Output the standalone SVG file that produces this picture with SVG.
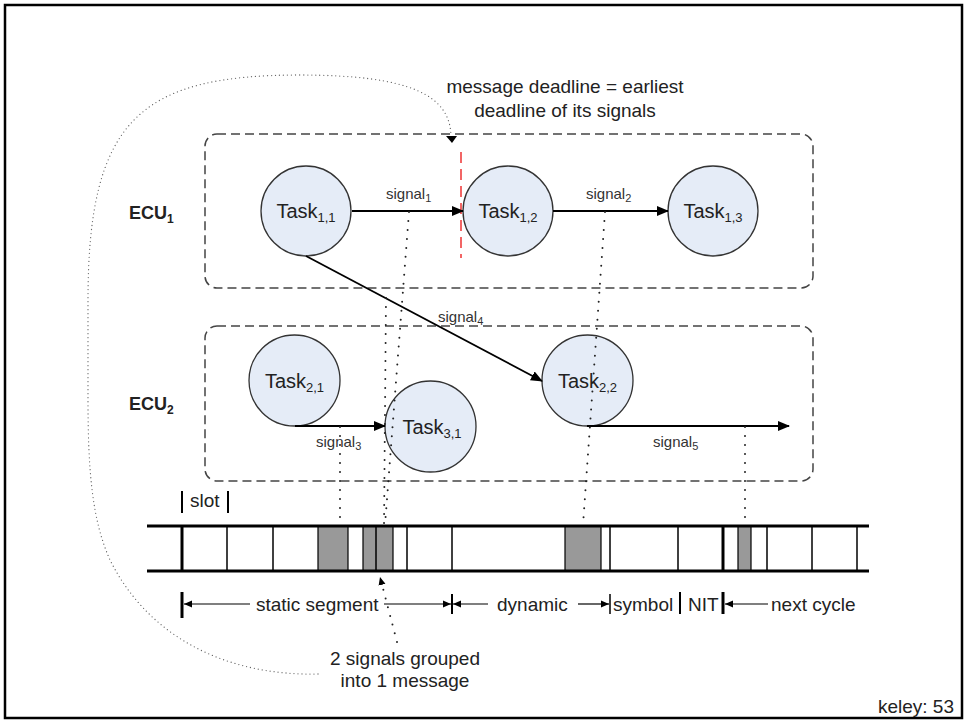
<svg xmlns="http://www.w3.org/2000/svg" width="967" height="723" viewBox="0 0 967 723">
<defs>
<marker id="ah" markerUnits="userSpaceOnUse" markerWidth="12" markerHeight="10" refX="11" refY="5" orient="auto"><path d="M0,0 L12,5 L0,10 z" fill="#000"/></marker>
<marker id="sh" markerUnits="userSpaceOnUse" markerWidth="8" markerHeight="8" refX="8" refY="4" orient="auto"><path d="M0,0.5 L8,4 L0,7.5 z" fill="#000"/></marker>
</defs>
<style>
text{font-family:"Liberation Sans",Arial,sans-serif;fill:#222}
.task circle{fill:#e5ecf7;stroke:#333;stroke-width:1.3}
.tl{font-size:20px;text-anchor:middle}
.sub{font-size:13px}
.sig{font-size:15px;fill:#333}
.ssub{font-size:11px}
.ecu{fill:none;stroke:#444;stroke-width:1.5;stroke-dasharray:9 5}
.ecul{font-size:18px;font-weight:bold}
.arr{stroke:#000;stroke-width:1.8;fill:none;marker-end:url(#ah)}
.dot{fill:none;stroke:#222;stroke-width:2;stroke-dasharray:0 9;stroke-linecap:round}
.fine{fill:none;stroke:#666;stroke-width:1.3;stroke-dasharray:0 4;stroke-linecap:round}
.lbl{font-size:19px}
.bus{stroke:#000;stroke-width:3}
.sl{stroke:#000;stroke-width:1.5}
.msg{fill:#999;stroke:#000;stroke-width:1.2}
.dim{stroke:#000;stroke-width:1.2;marker-end:url(#sh)}
</style>
<rect x="5" y="5" width="957" height="713" fill="#fff" stroke="#000" stroke-width="2.5"/>

<g id="ecu1">
<rect class="ecu" x="205" y="134" width="608" height="154" rx="12"/>
<text class="ecul" x="129" y="219">ECU<tspan font-size="12" dy="4">1</tspan></text>
</g>
<g id="ecu2">
<rect class="ecu" x="205" y="326" width="608" height="155" rx="12"/>
<text class="ecul" x="129" y="410">ECU<tspan font-size="12" dy="4">2</tspan></text>
</g>

<g id="deadline-marker">
<line x1="461" y1="152" x2="461" y2="258" stroke="#e33" stroke-width="1.5" stroke-dasharray="11 6"/>
</g>

<g id="task11" class="task"><circle cx="306" cy="211" r="45"/><text class="tl" x="306" y="218">Task<tspan class="sub" dy="4">1,1</tspan></text></g>
<g id="task12" class="task"><circle cx="508" cy="211" r="45"/><text class="tl" x="508" y="218">Task<tspan class="sub" dy="4">1,2</tspan></text></g>
<g id="task13" class="task"><circle cx="713" cy="211" r="45"/><text class="tl" x="713" y="218">Task<tspan class="sub" dy="4">1,3</tspan></text></g>
<g id="task21" class="task"><circle cx="294.5" cy="380.5" r="45.5"/><text class="tl" x="294.5" y="388">Task<tspan class="sub" dy="4">2,1</tspan></text></g>
<g id="task31" class="task"><circle cx="430.5" cy="426.5" r="45.5"/><text class="tl" x="432" y="434">Task<tspan class="sub" dy="4">3,1</tspan></text></g>
<g id="task22" class="task"><circle cx="587.5" cy="380.5" r="45.5"/><text class="tl" x="587.5" y="388">Task<tspan class="sub" dy="4">2,2</tspan></text></g>

<g id="connectors">
<line class="arr" x1="352" y1="211" x2="463" y2="211"/>
<text class="sig" x="386" y="199">signal<tspan class="ssub" dy="3">1</tspan></text>
<line class="arr" x1="553" y1="211" x2="668" y2="211"/>
<text class="sig" x="586" y="199">signal<tspan class="ssub" dy="3">2</tspan></text>
<line class="arr" x1="306" y1="256" x2="542" y2="381"/>
<text class="sig" x="438" y="322">signal<tspan class="ssub" dy="3">4</tspan></text>
<line class="arr" x1="295" y1="426" x2="385" y2="426"/>
<text class="sig" x="316" y="447">signal<tspan class="ssub" dy="3">3</tspan></text>
<line class="arr" x1="587" y1="426" x2="789" y2="426"/>
<text class="sig" x="653" y="447">signal<tspan class="ssub" dy="3">5</tspan></text>

<line class="dot" x1="409" y1="212" x2="385" y2="525"/>
<line class="dot" x1="386" y1="298" x2="384" y2="525"/>
<line class="dot" x1="340" y1="427" x2="340" y2="525"/>
<line class="dot" x1="605" y1="212" x2="583" y2="525"/>
<line class="dot" x1="745" y1="427" x2="745" y2="525"/>

<path class="fine" d="M318,674 C230,676 150,640 110,560 C92,520 88,470 88,400 L88,300 C88,120 140,75 300,75 C410,75 450,95 451,136"/>
<polygon points="446,136 457,136 452,143" fill="#000"/>
<line x1="397" y1="642" x2="380" y2="577" stroke="#222" stroke-width="2" stroke-dasharray="0 9" stroke-linecap="round" marker-end="url(#sh)"/>
</g>

<g id="bus">
<rect class="msg" x="318" y="526" width="30" height="45"/>
<rect class="msg" x="363" y="526" width="30" height="45"/>
<rect class="msg" x="565" y="526" width="36" height="45"/>
<rect class="msg" x="738" y="526" width="13" height="45"/>
<line class="bus" x1="182" y1="526" x2="182" y2="571"/>
<line class="sl" x1="227" y1="526" x2="227" y2="571" stroke="#444"/>
<line class="sl" x1="273" y1="526" x2="273" y2="571"/>
<line class="sl" x1="376" y1="526" x2="376" y2="571"/>
<line class="sl" x1="407" y1="526" x2="407" y2="571" stroke="#666"/>
<line class="sl" x1="452" y1="526" x2="452" y2="571"/>
<line class="sl" x1="610" y1="526" x2="610" y2="571" stroke-width="2"/>
<line class="sl" x1="678" y1="526" x2="678" y2="571"/>
<line class="bus" x1="723" y1="526" x2="723" y2="571"/>
<line class="sl" x1="767" y1="526" x2="767" y2="571" stroke="#666"/>
<line class="sl" x1="812" y1="526" x2="812" y2="571"/>
<line class="sl" x1="857" y1="526" x2="857" y2="571"/>
<line class="bus" x1="147" y1="526" x2="869" y2="526"/>
<line class="bus" x1="147" y1="571" x2="869" y2="571"/>
</g>

<g id="slot-label">
<line x1="182" y1="491" x2="182" y2="513" stroke="#000" stroke-width="2"/>
<line x1="228" y1="491" x2="228" y2="513" stroke="#000" stroke-width="2"/>
<text class="lbl" x="190" y="507">slot</text>
</g>

<g id="segments">
<line x1="182" y1="592" x2="182" y2="618" stroke="#000" stroke-width="3"/>
<line class="dim" x1="250" y1="604" x2="184" y2="604"/>
<text class="lbl" x="256" y="611">static segment</text>
<line class="dim" x1="384" y1="604" x2="451" y2="604"/>
<line x1="452" y1="594" x2="452" y2="614" stroke="#000" stroke-width="2"/>
<line class="dim" x1="488" y1="604" x2="453" y2="604"/>
<text class="lbl" x="497" y="611">dynamic</text>
<line class="dim" x1="578" y1="604" x2="609" y2="604"/>
<line x1="610" y1="594" x2="610" y2="614" stroke="#000" stroke-width="1.5"/>
<text class="lbl" x="613" y="611">symbol</text>
<line x1="680" y1="592" x2="680" y2="614" stroke="#000" stroke-width="2"/>
<text class="lbl" x="688" y="611">NIT</text>
<line x1="723" y1="592" x2="723" y2="614" stroke="#000" stroke-width="3"/>
<line class="dim" x1="768" y1="604" x2="725" y2="604"/>
<text class="lbl" x="771" y="611">next cycle</text>
</g>

<g id="notes">
<text class="lbl" x="565" y="93" text-anchor="middle">message deadline = earliest</text>
<text class="lbl" x="565" y="117" text-anchor="middle">deadline of its signals</text>
<text class="lbl" x="405" y="665" text-anchor="middle">2 signals grouped</text>
<text class="lbl" x="405" y="687" text-anchor="middle">into 1 message</text>
<text class="lbl" x="954" y="713" text-anchor="end" font-size="20">keley: 53</text>
</g>
</svg>
